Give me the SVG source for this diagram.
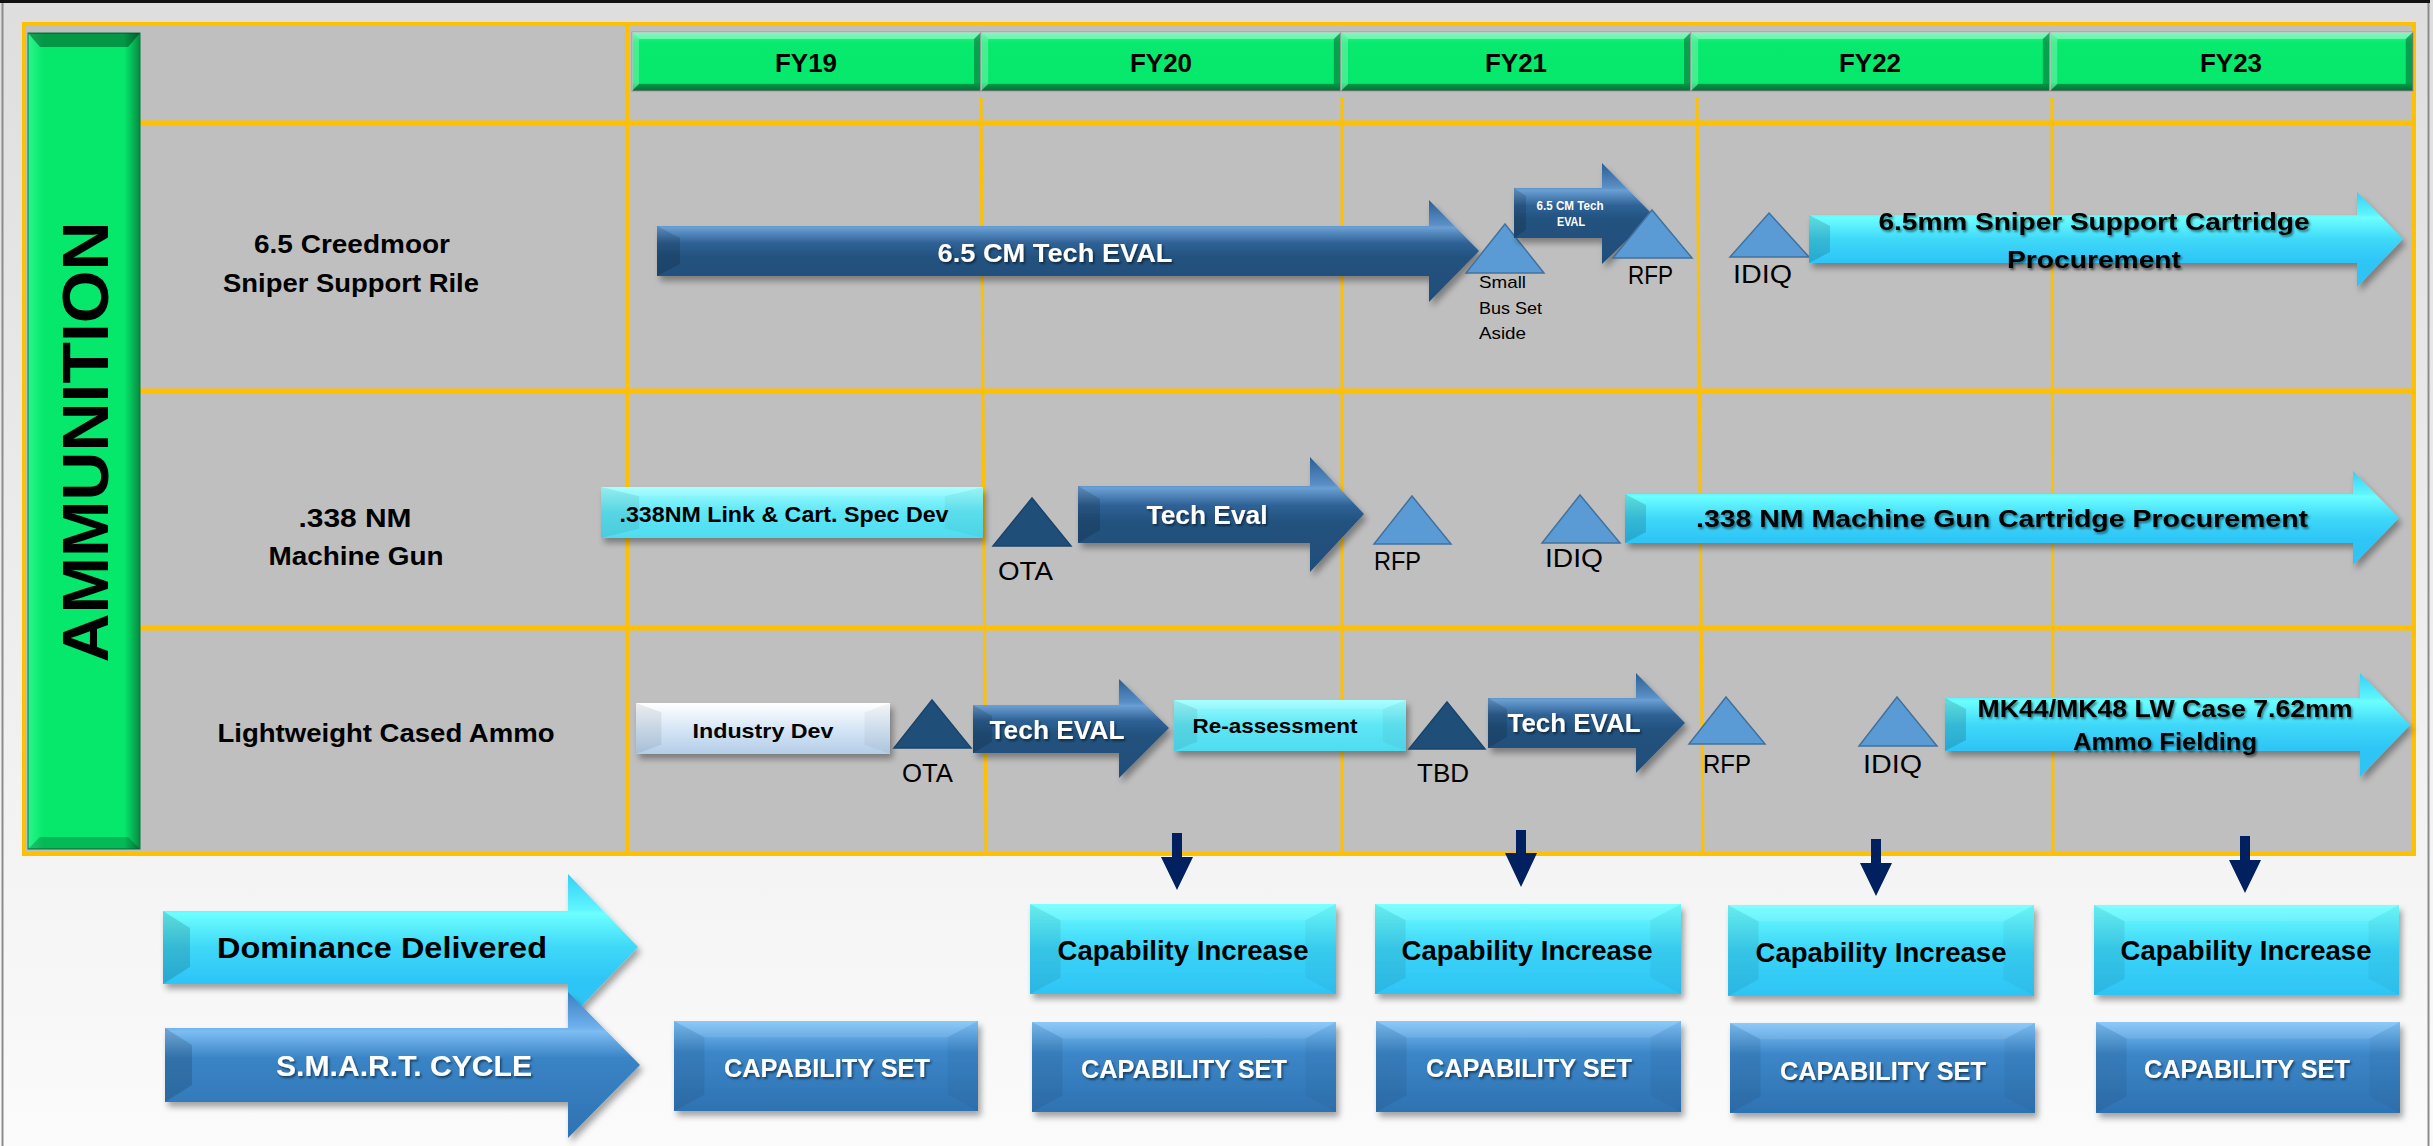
<svg xmlns="http://www.w3.org/2000/svg" xmlns:xlink="http://www.w3.org/1999/xlink" width="2433" height="1146" viewBox="0 0 2433 1146">
<defs>
<style>
.t{font-family:"Liberation Sans",Arial,sans-serif;font-weight:bold;fill:#000}
.c{text-anchor:middle}
.w{fill:#fff}
.r{font-weight:normal}
.ts{filter:url(#ts)}
.sh{filter:url(#sh)}
.grid{stroke:#ffc000;fill:none}
.triL{fill:#5b9bd5;stroke:#41719c;stroke-width:1.5}
.triD{fill:#1f4e79;stroke:#1a446b;stroke-width:1.5}
.dark{fill:url(#gDark)}
.cyan{fill:url(#gCyan)}
.fac{fill:#000;opacity:0.14}
.conn{fill:#002060}
</style>
<linearGradient id="gBg" x1="0" y1="0" x2="0" y2="1"><stop offset="0" stop-color="#dedede"/><stop offset="1" stop-color="#fbfbfb"/></linearGradient>
<linearGradient id="gGreen" x1="0" y1="0" x2="0" y2="1"><stop offset="0" stop-color="#3ff89c"/><stop offset="0.18" stop-color="#07ea6e"/><stop offset="0.85" stop-color="#05e86c"/><stop offset="1" stop-color="#03a24b"/></linearGradient>
<linearGradient id="gBar" x1="0" y1="0" x2="1" y2="0"><stop offset="0" stop-color="#2bf58c"/><stop offset="0.14" stop-color="#05e86c"/><stop offset="0.86" stop-color="#05e86c"/><stop offset="1" stop-color="#078a43"/></linearGradient>
<linearGradient id="gDark" x1="0" y1="0" x2="0" y2="1"><stop offset="0" stop-color="#2c5e93"/><stop offset="0.24" stop-color="#5a8fc6"/><stop offset="0.27" stop-color="#6a9fd4"/><stop offset="0.42" stop-color="#2f6296"/><stop offset="0.56" stop-color="#22527f"/><stop offset="1" stop-color="#1f4e79"/></linearGradient>
<linearGradient id="gCyan" x1="0" y1="0" x2="0" y2="1"><stop offset="0" stop-color="#34d0f7"/><stop offset="0.24" stop-color="#5ff4fd"/><stop offset="0.27" stop-color="#6cffff"/><stop offset="0.5" stop-color="#3fd8f8"/><stop offset="0.72" stop-color="#2ec6f6"/><stop offset="1" stop-color="#2ec4f5"/></linearGradient>
<linearGradient id="gSmart" x1="0" y1="0" x2="0" y2="1"><stop offset="0" stop-color="#3a80c2"/><stop offset="0.24" stop-color="#6fb0ec"/><stop offset="0.27" stop-color="#7cbdf3"/><stop offset="0.45" stop-color="#3a84c6"/><stop offset="1" stop-color="#2e72b2"/></linearGradient>
<linearGradient id="gCyanBox" x1="0" y1="0" x2="0" y2="1"><stop offset="0" stop-color="#70ffff"/><stop offset="0.5" stop-color="#3ad4f8"/><stop offset="1" stop-color="#2ec4f5"/></linearGradient>
<linearGradient id="gBlueBox" x1="0" y1="0" x2="0" y2="1"><stop offset="0" stop-color="#80c4fa"/><stop offset="0.35" stop-color="#3c86c8"/><stop offset="1" stop-color="#2e72b2"/></linearGradient>
<linearGradient id="gPale" x1="0" y1="0" x2="0" y2="1"><stop offset="0" stop-color="#a0ffff"/><stop offset="0.5" stop-color="#5ee6f6"/><stop offset="1" stop-color="#4fdcf0"/></linearGradient>
<linearGradient id="gInd" x1="0" y1="0" x2="0" y2="1"><stop offset="0" stop-color="#ffffff"/><stop offset="0.5" stop-color="#d6e6f6"/><stop offset="1" stop-color="#b4cde8"/></linearGradient>
<filter id="sh" x="-5%" y="-15%" width="115%" height="150%"><feDropShadow dx="3" dy="5" stdDeviation="3" flood-color="#000" flood-opacity="0.35"/></filter>
<filter id="ts" x="-5%" y="-20%" width="115%" height="160%"><feDropShadow dx="1.5" dy="2" stdDeviation="1.2" flood-color="#000" flood-opacity="0.5"/></filter>
<symbol id="bevel" viewBox="0 0 100 100" preserveAspectRatio="none">
<polygon points="0,0 10,18 10,82 0,100" fill="#000" opacity="0.07"/>
<polygon points="100,0 90,18 90,82 100,100" fill="#000" opacity="0.04"/>
<polygon points="0,0 100,0 90,18 10,18" fill="#fff" opacity="0.1"/>
</symbol>
<symbol id="bevelThin" viewBox="0 0 100 100" preserveAspectRatio="none">
<polygon points="0,0 2,12 2,88 0,100" fill="#fff" opacity="0.25"/>
<polygon points="100,0 98,12 98,88 100,100" fill="#000" opacity="0.3"/>
<polygon points="0,0 100,0 98,12 2,12" fill="#fff" opacity="0.35"/>
<polygon points="0,100 100,100 98,88 2,88" fill="#000" opacity="0.3"/>
</symbol>
</defs>

<rect x="0" y="0" width="2433" height="1146" fill="url(#gBg)"/>
<rect x="2.5" y="2" width="2426" height="1150" fill="none" stroke="#8c8c8c" stroke-width="2"/>
<line x1="0" y1="1.5" x2="2430" y2="1.5" stroke="#111" stroke-width="3"/>

<g id="grid">
<rect x="24" y="24" width="2390" height="830" fill="#bfbfbf"/>
<line class="grid" x1="140" y1="123" x2="2414" y2="123" stroke-width="5"/>
<line class="grid" x1="140" y1="391" x2="2414" y2="391" stroke-width="5"/>
<line class="grid" x1="140" y1="628" x2="2414" y2="628" stroke-width="5"/>
<line class="grid" x1="627" y1="24" x2="627" y2="854" stroke-width="4"/>
<line class="grid" x1="981" y1="97" x2="986" y2="854" stroke-width="3"/>
<line class="grid" x1="1342" y1="97" x2="1342" y2="854" stroke-width="3"/>
<line class="grid" x1="1697" y1="97" x2="1703" y2="854" stroke-width="3"/>
<line class="grid" x1="2052" y1="97" x2="2053" y2="854" stroke-width="3"/>
<rect class="grid" x="24" y="24" width="2390" height="830" stroke-width="4"/>
</g>

<g id="ammunition">
<rect x="28" y="33" width="112" height="816" fill="url(#gBar)" stroke="#0b7a3c" stroke-width="1"/>
<polygon points="28,33 140,33 128,47 40,47" fill="#000" opacity="0.35"/>
<polygon points="28,849 140,849 128,837 40,837" fill="#000" opacity="0.2"/>
<text class="t" font-size="64" text-anchor="middle" textLength="441" lengthAdjust="spacingAndGlyphs" transform="translate(108,442) rotate(-90)">AMMUNITION</text>
</g>

<g id="fy-headers">
<g id="fy19"><rect x="632" y="32" width="349" height="59" fill="url(#gGreen)" stroke="#a6a6a6" stroke-width="1.5"/><use href="#bevelThin" x="632" y="32" width="349" height="59"/><text class="t c" x="806" y="72" font-size="25" textLength="62" lengthAdjust="spacingAndGlyphs">FY19</text></g>
<g id="fy20"><rect x="981" y="32" width="360" height="59" fill="url(#gGreen)" stroke="#a6a6a6" stroke-width="1.5"/><use href="#bevelThin" x="981" y="32" width="360" height="59"/><text class="t c" x="1161" y="72" font-size="25" textLength="62" lengthAdjust="spacingAndGlyphs">FY20</text></g>
<g id="fy21"><rect x="1341" y="32" width="350" height="59" fill="url(#gGreen)" stroke="#a6a6a6" stroke-width="1.5"/><use href="#bevelThin" x="1341" y="32" width="350" height="59"/><text class="t c" x="1516" y="72" font-size="25" textLength="62" lengthAdjust="spacingAndGlyphs">FY21</text></g>
<g id="fy22"><rect x="1691" y="32" width="359" height="59" fill="url(#gGreen)" stroke="#a6a6a6" stroke-width="1.5"/><use href="#bevelThin" x="1691" y="32" width="359" height="59"/><text class="t c" x="1870" y="72" font-size="25" textLength="62" lengthAdjust="spacingAndGlyphs">FY22</text></g>
<g id="fy23"><rect x="2050" y="32" width="363" height="59" fill="url(#gGreen)" stroke="#a6a6a6" stroke-width="1.5"/><use href="#bevelThin" x="2050" y="32" width="363" height="59"/><text class="t c" x="2231" y="72" font-size="25" textLength="62" lengthAdjust="spacingAndGlyphs">FY23</text></g>
</g>

<g id="row-labels">
<g id="label-creedmoor"><text class="t c" x="352" y="253" font-size="25" textLength="196" lengthAdjust="spacingAndGlyphs">6.5 Creedmoor</text><text class="t c" x="351" y="292" font-size="25" textLength="256" lengthAdjust="spacingAndGlyphs">Sniper Support Rile</text></g>
<g id="label-338"><text class="t c" x="355" y="527" font-size="25" textLength="113" lengthAdjust="spacingAndGlyphs">.338 NM</text><text class="t c" x="356" y="565" font-size="25" textLength="175" lengthAdjust="spacingAndGlyphs">Machine Gun</text></g>
<g id="label-lwca"><text class="t c" x="386" y="742" font-size="25" textLength="337" lengthAdjust="spacingAndGlyphs">Lightweight Cased Ammo</text></g>
</g>

<!-- Row 1 -->
<g id="r1-tech-eval">
<polygon class="dark sh" points="657,226 1429,226 1429,200 1479,251 1429,302 1429,276 657,276"/>
<polygon class="fac" points="657,226 680,238 680,264 657,276"/>
<text class="t c w ts" x="1055" y="262" font-size="26" textLength="235" lengthAdjust="spacingAndGlyphs">6.5 CM Tech EVAL</text>
</g>
<g id="r1-small-bus">
<polygon class="triL" points="1505,224 1544,273 1466,273"/>
<text class="t r" x="1479" y="288" font-size="17" textLength="47" lengthAdjust="spacingAndGlyphs">Small</text>
<text class="t r" x="1479" y="314" font-size="17" textLength="63" lengthAdjust="spacingAndGlyphs">Bus Set</text>
<text class="t r" x="1479" y="339" font-size="17" textLength="47" lengthAdjust="spacingAndGlyphs">Aside</text>
</g>
<g id="r1-tech-eval-2">
<polygon class="dark sh" points="1514,188 1602,188 1602,163 1653,215 1602,264 1602,238 1514,238"/>
<polygon class="fac" points="1514,188 1526,196 1526,230 1514,238"/>
<text class="t c w" x="1570" y="210" font-size="12" textLength="67" lengthAdjust="spacingAndGlyphs">6.5 CM Tech</text>
<text class="t c w" x="1571" y="226" font-size="12" textLength="28" lengthAdjust="spacingAndGlyphs">EVAL</text>
</g>
<g id="r1-rfp">
<polygon class="triL" points="1652,210 1692,258 1613,258"/>
<text class="t r" x="1628" y="284" font-size="25" textLength="45" lengthAdjust="spacingAndGlyphs">RFP</text>
</g>
<g id="r1-idiq">
<polygon class="triL" points="1769,213 1809,257 1730,257"/>
<text class="t r" x="1733" y="283" font-size="25" textLength="59" lengthAdjust="spacingAndGlyphs">IDIQ</text>
</g>
<g id="r1-procurement">
<polygon class="cyan sh" points="1809,215 2357,215 2357,192 2403,239 2357,287 2357,263 1809,263"/>
<polygon class="fac" points="1809,215 1830,226 1830,252 1809,263" opacity="0.08"/>
<text class="t c ts" x="2094" y="230" font-size="24" textLength="431" lengthAdjust="spacingAndGlyphs">6.5mm Sniper Support Cartridge</text>
<text class="t c ts" x="2094" y="268" font-size="24" textLength="174" lengthAdjust="spacingAndGlyphs">Procurement</text>
</g>

<!-- Row 2 -->
<g id="r2-spec-dev">
<rect class="sh" x="601" y="487" width="382" height="51" fill="url(#gPale)"/>
<use href="#bevel" x="601" y="487" width="382" height="51"/>
<text class="t c" x="784" y="522" font-size="22" textLength="329" lengthAdjust="spacingAndGlyphs">.338NM Link &amp; Cart. Spec Dev</text>
</g>
<g id="r2-ota">
<polygon class="triD" points="1032,498 1071,546 993,546"/>
<text class="t r" x="998" y="580" font-size="25" textLength="55" lengthAdjust="spacingAndGlyphs">OTA</text>
</g>
<g id="r2-tech-eval">
<polygon class="dark sh" points="1078,486 1310,486 1310,457 1364,514 1310,572 1310,543 1078,543"/>
<polygon class="fac" points="1078,486 1100,499 1100,530 1078,543"/>
<text class="t c w ts" x="1207" y="524" font-size="26" textLength="121" lengthAdjust="spacingAndGlyphs">Tech Eval</text>
</g>
<g id="r2-rfp">
<polygon class="triL" points="1412,496 1451,544 1374,544"/>
<text class="t r" x="1374" y="570" font-size="25" textLength="47" lengthAdjust="spacingAndGlyphs">RFP</text>
</g>
<g id="r2-idiq">
<polygon class="triL" points="1580,495 1620,543 1542,543"/>
<text class="t r" x="1545" y="567" font-size="25" textLength="58" lengthAdjust="spacingAndGlyphs">IDIQ</text>
</g>
<g id="r2-procurement">
<polygon class="cyan sh" points="1625,494 2353,494 2353,471 2399,518 2353,565 2353,543 1625,543"/>
<polygon class="fac" points="1625,494 1646,505 1646,532 1625,543" opacity="0.08"/>
<text class="t c ts" x="2002" y="527" font-size="24" textLength="612" lengthAdjust="spacingAndGlyphs">.338 NM Machine Gun Cartridge Procurement</text>
</g>

<!-- Row 3 -->
<g id="r3-industry-dev">
<rect class="sh" x="636" y="703" width="254" height="51" fill="url(#gInd)"/>
<use href="#bevel" x="636" y="703" width="254" height="51"/>
<text class="t c" x="763" y="738" font-size="21" textLength="141" lengthAdjust="spacingAndGlyphs">Industry Dev</text>
</g>
<g id="r3-ota">
<polygon class="triD" points="932,700 971,748 894,748"/>
<text class="t r" x="902" y="782" font-size="25" textLength="51" lengthAdjust="spacingAndGlyphs">OTA</text>
</g>
<g id="r3-tech-eval-1">
<polygon class="dark sh" points="973,705 1119,705 1119,679 1169,728 1119,778 1119,753 973,753"/>
<polygon class="fac" points="973,705 992,716 992,742 973,753"/>
<text class="t c w ts" x="1057" y="739" font-size="26" textLength="135" lengthAdjust="spacingAndGlyphs">Tech EVAL</text>
</g>
<g id="r3-reassessment">
<rect class="sh" x="1174" y="700" width="232" height="51" fill="url(#gPale)"/>
<use href="#bevel" x="1174" y="700" width="232" height="51"/>
<text class="t c" x="1275" y="733" font-size="20" textLength="165" lengthAdjust="spacingAndGlyphs">Re-assessment</text>
</g>
<g id="r3-tbd">
<polygon class="triD" points="1447,702 1485,749 1409,749"/>
<text class="t r" x="1417" y="782" font-size="25" textLength="52" lengthAdjust="spacingAndGlyphs">TBD</text>
</g>
<g id="r3-tech-eval-2">
<polygon class="dark sh" points="1488,698 1636,698 1636,673 1685,723 1636,773 1636,748 1488,748"/>
<polygon class="fac" points="1488,698 1507,709 1507,737 1488,748"/>
<text class="t c w ts" x="1574" y="732" font-size="26" textLength="133" lengthAdjust="spacingAndGlyphs">Tech EVAL</text>
</g>
<g id="r3-rfp">
<polygon class="triL" points="1726,697 1765,744 1689,744"/>
<text class="t r" x="1703" y="773" font-size="25" textLength="48" lengthAdjust="spacingAndGlyphs">RFP</text>
</g>
<g id="r3-idiq">
<polygon class="triL" points="1897,697 1937,746 1859,746"/>
<text class="t r" x="1863" y="773" font-size="25" textLength="59" lengthAdjust="spacingAndGlyphs">IDIQ</text>
</g>
<g id="r3-fielding">
<polygon class="cyan sh" points="1945,698 2360,698 2360,673 2410,725 2360,777 2360,751 1945,751"/>
<polygon class="fac" points="1945,698 1966,709 1966,740 1945,751" opacity="0.08"/>
<text class="t c ts" x="2165" y="717" font-size="23" textLength="375" lengthAdjust="spacingAndGlyphs">MK44/MK48 LW Case 7.62mm</text>
<text class="t c ts" x="2165" y="750" font-size="23" textLength="184" lengthAdjust="spacingAndGlyphs">Ammo Fielding</text>
</g>

<!-- Bottom -->
<g id="dominance-delivered">
<polygon class="cyan sh" points="163,911 568,911 568,874 638,947 568,1020 568,984 163,984"/>
<polygon class="fac" points="163,911 190,928 190,967 163,984" opacity="0.08"/>
<text class="t c" x="382" y="958" font-size="30" textLength="330" lengthAdjust="spacingAndGlyphs">Dominance Delivered</text>
</g>
<g id="smart-cycle">
<polygon class="sh" fill="url(#gSmart)" points="165,1028 568,1028 568,992 640,1065 568,1138 568,1102 165,1102"/>
<polygon class="fac" points="165,1028 192,1045 192,1085 165,1102" opacity="0.1"/>
<text class="t c w ts" x="404" y="1076" font-size="29" textLength="256" lengthAdjust="spacingAndGlyphs">S.M.A.R.T. CYCLE</text>
</g>

<g id="cap-inc-fy20"><rect class="sh" x="1030" y="904" width="306" height="90" fill="url(#gCyanBox)"/><use href="#bevel" x="1030" y="904" width="306" height="90"/><text class="t c" x="1183" y="960" font-size="27" textLength="251" lengthAdjust="spacingAndGlyphs">Capability Increase</text></g>
<g id="cap-inc-fy21"><rect class="sh" x="1375" y="904" width="306" height="90" fill="url(#gCyanBox)"/><use href="#bevel" x="1375" y="904" width="306" height="90"/><text class="t c" x="1527" y="960" font-size="27" textLength="251" lengthAdjust="spacingAndGlyphs">Capability Increase</text></g>
<g id="cap-inc-fy22"><rect class="sh" x="1728" y="905" width="306" height="91" fill="url(#gCyanBox)"/><use href="#bevel" x="1728" y="905" width="306" height="91"/><text class="t c" x="1881" y="962" font-size="27" textLength="251" lengthAdjust="spacingAndGlyphs">Capability Increase</text></g>
<g id="cap-inc-fy23"><rect class="sh" x="2094" y="905" width="305" height="90" fill="url(#gCyanBox)"/><use href="#bevel" x="2094" y="905" width="305" height="90"/><text class="t c" x="2246" y="960" font-size="27" textLength="251" lengthAdjust="spacingAndGlyphs">Capability Increase</text></g>

<g id="cap-set-fy19"><rect class="sh" x="674" y="1021" width="304" height="90" fill="url(#gBlueBox)"/><use href="#bevel" x="674" y="1021" width="304" height="90"/><text class="t c w ts" x="827" y="1077" font-size="26" textLength="206" lengthAdjust="spacingAndGlyphs">CAPABILITY SET</text></g>
<g id="cap-set-fy20"><rect class="sh" x="1032" y="1022" width="304" height="90" fill="url(#gBlueBox)"/><use href="#bevel" x="1032" y="1022" width="304" height="90"/><text class="t c w ts" x="1184" y="1078" font-size="26" textLength="206" lengthAdjust="spacingAndGlyphs">CAPABILITY SET</text></g>
<g id="cap-set-fy21"><rect class="sh" x="1376" y="1021" width="305" height="91" fill="url(#gBlueBox)"/><use href="#bevel" x="1376" y="1021" width="305" height="91"/><text class="t c w ts" x="1529" y="1077" font-size="26" textLength="206" lengthAdjust="spacingAndGlyphs">CAPABILITY SET</text></g>
<g id="cap-set-fy22"><rect class="sh" x="1730" y="1023" width="305" height="90" fill="url(#gBlueBox)"/><use href="#bevel" x="1730" y="1023" width="305" height="90"/><text class="t c w ts" x="1883" y="1080" font-size="26" textLength="206" lengthAdjust="spacingAndGlyphs">CAPABILITY SET</text></g>
<g id="cap-set-fy23"><rect class="sh" x="2096" y="1022" width="304" height="91" fill="url(#gBlueBox)"/><use href="#bevel" x="2096" y="1022" width="304" height="91"/><text class="t c w ts" x="2247" y="1078" font-size="26" textLength="206" lengthAdjust="spacingAndGlyphs">CAPABILITY SET</text></g>

<g id="connectors">
<path class="conn" d="M1172,833 H1182 V857 H1193 L1177,890 L1161,857 H1172 Z"/>
<path class="conn" d="M1516,830 H1526 V853 H1537 L1521,887 L1505,853 H1516 Z"/>
<path class="conn" d="M1871,839 H1881 V863 H1892 L1876,896 L1860,863 H1871 Z"/>
<path class="conn" d="M2240,836 H2250 V860 H2261 L2245,893 L2229,860 H2240 Z"/>
</g>
</svg>
